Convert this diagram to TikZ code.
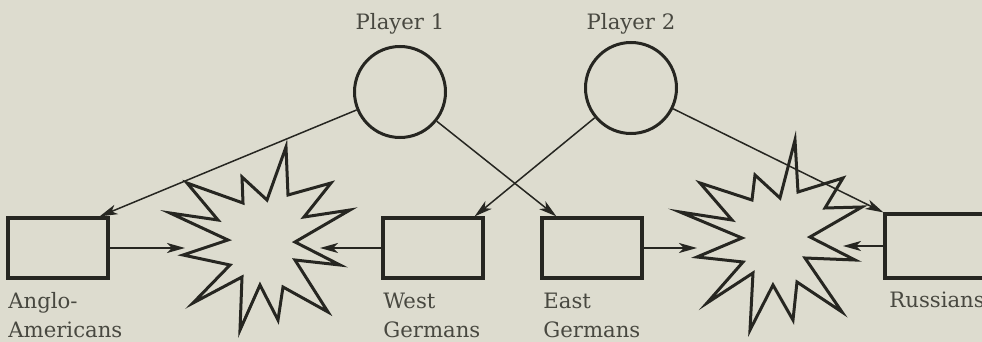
\documentclass[tikz,border=0pt]{standalone}
\usepackage{fontspec}
\setmainfont{DejaVu Serif}
\usetikzlibrary{arrows.meta,positioning}
\definecolor{paper}{RGB}{221,220,207}
\definecolor{ink}{RGB}{38,38,33}
\definecolor{inkgrey}{RGB}{72,72,64}

\begin{document}
\begin{tikzpicture}[x=0.5pt, y=-0.5pt,
    player/.style={circle, draw=ink, line width=1.5pt, minimum size=45.5pt, inner sep=0pt},
    actor/.style={rectangle, draw=ink, line width=1.6pt, minimum width=50pt, minimum height=30pt, inner sep=0pt},
    lbl/.style={font=\fontsize{10.6}{14}\selectfont, text=inkgrey, inner sep=0pt, align=left},
    link/.style={-{Stealth[length=9pt,width=5pt,inset=2.5pt]}, draw=ink, line width=0.75pt},
    blast/.style={draw=ink, line width=1.5pt, line join=miter}]
    \fill[paper] (0,0) rectangle (982,342);
    \useasboundingbox (0,0) rectangle (982,342);

    % the two players
    \node[player] (p1) at (400,92) {};
    \node[player] (p2) at (631,88) {};
    \node[lbl, above=5pt of p1] (p1lbl) {Player 1};
    \node[lbl, above=3pt of p2] (p2lbl) {Player 2};

    % the four forces
    \node[actor] (aa) at (58,248) {};
    \node[actor] (wg) at (433,248) {};
    \node[actor] (eg) at (592,248) {};
    \node[actor, minimum height=32pt] (ru) at (935,246) {};
    % base of a two-line label sits on its last line
    \node[lbl, anchor=base west] (aalbl) at (8,337) {Anglo-\\Americans};
    \node[lbl, anchor=base west] (wglbl) at (383,337) {West\\Germans};
    \node[lbl, anchor=base west] (eglbl) at (543,337) {East\\Germans};
    \node[lbl, anchor=base west] (rulbl) at (889,307) {Russians};

    % clashes
    \draw[blast] plot coordinates {(286,147) (288,195) (331,183) (304,217) (350,210) (295,242)
        (340,265) (295,260) (328,312) (283,287) (278,320) (260,285) (240,330) (242,277)
        (193,303) (230,265) (183,255) (228,240) (170,213) (218,220) (187,183) (243,203)
        (242,177) (267,200)} -- cycle;
    \draw[blast] plot coordinates {(795,140) (798,192) (843,178) (825,208) (862,207) (810,237)
        (855,260) (805,258) (842,312) (797,282) (793,320) (773,285) (750,330) (753,273)
        (707,303) (743,262) (697,257) (742,238) (680,212) (732,220) (700,183) (752,200)
        (755,175) (780,198)} -- cycle;
    \coordinate (blastL-w) at (185,248);
    \coordinate (blastL-e) at (320,248);
    \coordinate (blastR-w) at (697,248);
    \coordinate (blastR-e) at (843,246);

    % who commands whom
    \draw[link] (p1) -- ([xshift=-5pt]aa.north east);
    \draw[link] (p1) -- ([xshift=8pt]eg.north west);
    \draw[link] (p2) -- ([xshift=-5pt]wg.north east);
    \draw[link] (p2) -- (ru.north west);

    % fighting
    \draw[link] (aa) -- (blastL-w);
    \draw[link] (wg) -- (blastL-e);
    \draw[link] (eg) -- (blastR-w);
    \draw[link] (ru) -- (blastR-e);
\end{tikzpicture}
\end{document}
